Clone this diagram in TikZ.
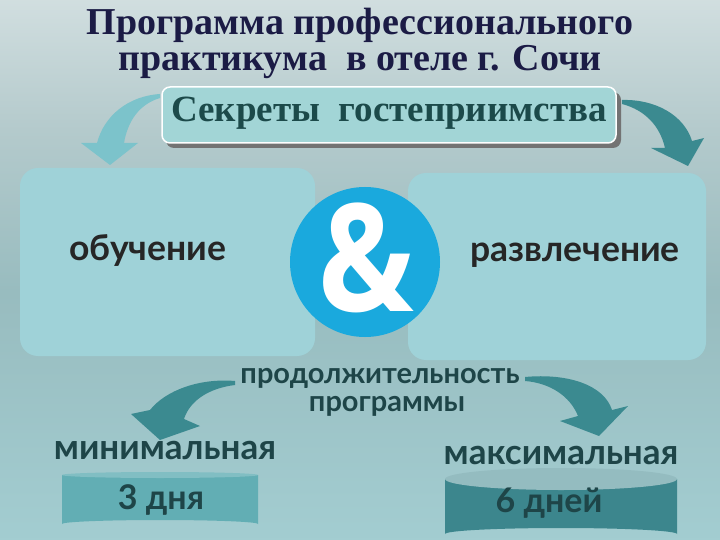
\documentclass[tikz,border=0pt]{standalone}
\usepackage{fontspec}
\setmainfont{Liberation Serif}
\newfontfamily\roundsans{Lato}
\newfontfamily\ampfont{Open Sans}
\usetikzlibrary{positioning}

\definecolor{titleblue}{HTML}{1B1B45}
\definecolor{secretink}{HTML}{1C4A4A}
\definecolor{secretfill}{HTML}{A2D5D6}
\definecolor{panelfill}{HTML}{9FD2D8}
\definecolor{ampblue}{HTML}{1AA9DD}
\definecolor{lightarrow}{HTML}{7CC3CB}
\definecolor{darkarrow}{HTML}{3B8A90}
\definecolor{durink}{HTML}{1E4548}
\definecolor{cylsmall}{HTML}{62AEB4}
\definecolor{cylbig}{HTML}{3C868D}
\definecolor{bgtop}{HTML}{F8FAF9}
\definecolor{bgtopb}{HTML}{DFE8E9}
\definecolor{bgmid}{HTML}{B4CACC}
\definecolor{bgdark}{HTML}{98BCBF}
\definecolor{bglow}{HTML}{A2CCD0}
\definecolor{bgbot}{HTML}{B3DDE2}

\pgfdeclareverticalshading{slidebg}{100bp}{color(0bp)=(bgbot); color(26bp)=(bglow);
  color(48bp)=(bgdark); color(63bp)=(bgmid); color(81bp)=(bgtopb); color(100bp)=(bgtop)}

\begin{document}
\begin{tikzpicture}
  [x=1pt,y=-1pt,
   titletext/.style={font=\bfseries\fontsize{38}{38}\selectfont, text=titleblue},
   sanslabel/.style={font=\roundsans\bfseries\fontsize{35.5}{35.5}\selectfont, text=black!85},
   durlabel/.style={font=\roundsans\bfseries\fontsize{29}{29}\selectfont, text=durink},
   biglabel/.style={durlabel, font=\roundsans\bfseries\fontsize{35}{35}\selectfont},
   daylabel/.style={durlabel, font=\roundsans\bfseries\fontsize{34}{34}\selectfont},
   panel/.style={fill=panelfill, rounded corners=18pt}]
  \useasboundingbox (0,0) rectangle (720,540);
  \shade[shading=slidebg] (0,0) rectangle (720,540);

  % title
  \node[titletext] (title1) at (360,25) {Программа профессионального};
  \node[titletext] (title2) at (360,62) {практикума\ \ в отеле г. Сочи};

  % secrets box with shadow
  \fill[black!55, rounded corners=8pt] (166,92) rectangle (621,148);
  \draw[white, line width=1.5pt, fill=secretfill, rounded corners=8pt] (162,87) rectangle (616,143);
  \node[font=\bfseries\fontsize{37}{37}\selectfont, text=secretink] (secrets) at (389,113) {Секреты\ \ гостеприимства};

  % upper arrows
  \fill[lightarrow] (160,94) .. controls (128,96) and (104,116) .. (97,143) -- (81,143)
    -- (110,165) -- (138,143) -- (124,143) .. controls (128,120) and (140,104) .. (160,98) -- cycle;
  \fill[darkarrow] (622,100) .. controls (655,99) and (684,115) .. (692,141) -- (704,138)
    -- (688,166) -- (651,148) -- (665,148) .. controls (660,126) and (645,110) .. (622,104) -- cycle;

  % panels and ampersand
  \fill[panel] (20,168) rectangle (315,356);
  \fill[panel] (408,173) rectangle (706,360);
  \node[sanslabel] (study) at (148,251) {обучение};
  \node[sanslabel] (fun) at (575,255) {развлечение};
  \node[circle, fill=ampblue, minimum size=150pt, inner sep=0pt] (amp) at (365,262) {};
  \node[font=\ampfont\bfseries\fontsize{150}{150}\selectfont, text=white, xscale=0.85] at (366,258) {\&};

  % duration
  \node[durlabel] (dur1) at (380,378) {продолжительность};
  \node[durlabel] (dur2) at (387,406) {программы};
  \fill[darkarrow] (235,381) .. controls (200,378) and (166,390) .. (150,410) -- (131,414)
    -- (160,440) -- (200,426) -- (184,419) .. controls (190,400) and (210,388) .. (235,385) -- cycle;
  \fill[darkarrow] (525,377) .. controls (568,373) and (604,385) .. (612,410) -- (628,406)
    -- (599,436) -- (560,421) -- (578,416) .. controls (570,396) and (550,383) .. (525,381) -- cycle;

  \node[biglabel] (minlabel) at (165,450) {минимальная};
  \node[biglabel] (maxlabel) at (561,455) {максимальная};

  % cylinders
  \fill[cylsmall] (62,475) -- (62,524) arc[start angle=180, end angle=360, x radius=98, y radius=4]
    -- (258,475) -- cycle;
  \fill[cylsmall!80!white] (160,475) ellipse[x radius=98, y radius=3];
  \node[daylabel] (three) at (161,500) {3 дня};

  \fill[cylbig] (445,479) -- (445,534) arc[start angle=180, end angle=360, x radius=116, y radius=6]
    -- (677,479) -- cycle;
  \fill[cylbig!55!white] (561,479) ellipse[x radius=116, y radius=11];
  \node[daylabel] (six) at (549,503) {6 дней};
\end{tikzpicture}
\end{document}
